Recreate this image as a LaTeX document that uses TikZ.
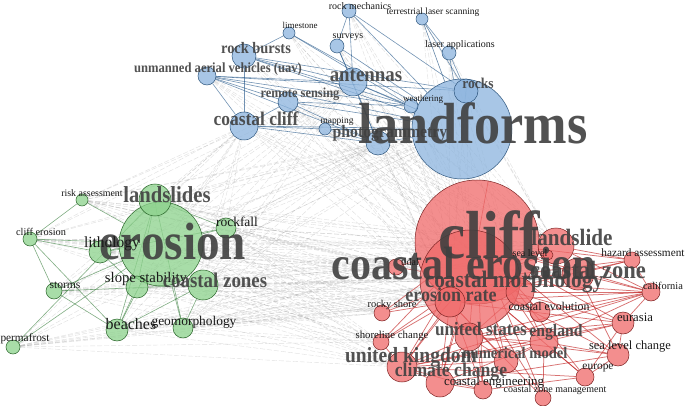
\documentclass[tikz,border=0pt]{standalone}
\usepackage{fontspec}
\setmainfont{Liberation Serif}
\newfontfamily\lbf{Liberation Serif}[FakeStretch=0.9]
\pgfdeclarelayer{back}
\pgfdeclarelayer{bg}
\pgfsetlayers{back,bg,main}
\definecolor{bfill}{RGB}{140,180,222}
\definecolor{bdraw}{RGB}{45,85,125}
\definecolor{gfill}{RGB}{140,210,140}
\definecolor{gdraw}{RGB}{40,100,40}
\definecolor{rfill}{RGB}{240,105,105}
\definecolor{rdraw}{RGB}{125,35,35}
\definecolor{bedge}{RGB}{40,90,140}
\definecolor{gedge}{RGB}{45,120,50}
\definecolor{redge}{RGB}{190,20,20}
\tikzset{
  kn/.style={circle, inner sep=0pt, line width=0.5pt, fill opacity=0.75},
  bn/.style={kn, fill=bfill, draw=bdraw},
  gn/.style={kn, fill=gfill, draw=gdraw},
  rn/.style={kn, fill=rfill, draw=rdraw},
  be/.style={draw=bedge, line width=0.6pt, opacity=0.65},
  gre/.style={draw=gedge, line width=0.6pt, opacity=0.6},
  re/.style={draw=redge, line width=0.75pt, opacity=0.6},
  xe/.style={draw=gray, line width=0.4pt, opacity=0.25, dash pattern=on 5pt off 2pt},
  labb/.style={inner sep=0pt, text=black!75, text opacity=0.9},
  labr/.style={inner sep=0pt, text=black!90},
}
\newcommand\kwb[5]{\node[labb, font=\lbf\bfseries\fontsize{#4}{#4}\selectfont] (l#1) at (#2,#3) {#5};}
\newcommand\kwr[5]{\node[labr, font=\fontsize{#4}{#4}\selectfont] (l#1) at (#2,#3) {#5};}
\begin{document}
\begin{tikzpicture}[x=1pt,y=-1pt]
\begin{pgfonlayer}{back}
\fill[white] (0,0) rectangle (685,406);
\end{pgfonlayer}
\useasboundingbox (0,0) rectangle (685,406);
% ---- circles
\foreach \n/\x/\y/\r in {landforms/462/129/50, rocks/466/91/12, weathering/411/106/7, photogram/378/143/12, mapping/325/129/6, coastcliff/244/126/14, remotesens/288/102/10, antennas/353/82/14, uav/207/76/9, rockbursts/244/56/12, limestone/289/33/6, surveys/337/46/7, rockmech/349/11/7, tls/422/19/6, laserapp/449/53/7}
  \node[bn, minimum size=\r*2pt] (\n) at (\x,\y) {};
\foreach \n/\x/\y/\r in {erosion/161/244/42, landslides/155/200/16, riskass/82/200/6, rockfall/226/228/10, cliffero/30/239/7, lithology/100/252/11, slopestab/137/287/11, coastzones/203/285/15, storms/54/291/8, beaches/117/330/11, geomorph/183/328/10, permafrost/13/347/7}
  \node[gn, minimum size=\r*2pt] (\n) at (\x,\y) {};
\foreach \n/\x/\y/\r in {cliff/477/242/62, coastero/470/280/50, landslide/556/246/18, coastzone/578/274/16, sealevel/548/255/5, tidal/396/267/8, coastmorph/520/292/14, erorate/450/302/15, coastevo/540/312/10, rockyshore/382/313/8, hazard/632/260/8, california/651/292/9, eurasia/623/323/11, usa/469/337/14, england/544/342/14, shorechange/381/342/8, uk/402/367/15, nummodel/506/361/12, slc/618/355/11, climate/440/383/14, europe/585/377/9, coasteng/483/390/9, czm/543/398/8}
  \node[rn, minimum size=\r*2pt] (\n) at (\x,\y) {};
% ---- edges
\begin{pgfonlayer}{bg}
\foreach \a in {erosion,landslides,lithology,coastzones,slopestab,beaches,geomorph,rockfall,riskass,cliffero,storms,permafrost}
  \foreach \b in {cliff,coastero,landforms,erorate,coastmorph,uk,tidal,rockyshore,shorechange,landslide,coastzone,antennas,coastcliff,photogram}
    \draw[xe] (\a) -- (\b);
\foreach \a in {landforms,rocks,weathering,photogram,mapping,coastcliff,remotesens,antennas,uav,rockbursts,limestone,surveys,rockmech,tls,laserapp}
  \foreach \b in {cliff,coastero,erorate,coastmorph,landslide}
    \draw[xe] (\a) -- (\b);
\foreach \b in {rocks,weathering,photogram,mapping,coastcliff,remotesens,antennas,uav,rockbursts,limestone,surveys,rockmech,tls,laserapp}
  \draw[be] (landforms) -- (\b);
\foreach \a/\b in {uav/antennas, uav/remotesens, uav/weathering, uav/photogram, uav/coastcliff, uav/rocks, rockbursts/coastcliff, rockbursts/weathering, rockbursts/antennas, rockbursts/rocks, coastcliff/photogram, coastcliff/mapping, coastcliff/remotesens, antennas/photogram, antennas/rockmech, antennas/weathering, remotesens/photogram, remotesens/weathering, limestone/weathering, limestone/rockbursts, surveys/photogram, surveys/antennas, rockmech/rocks, rockmech/surveys, tls/laserapp, tls/rocks, laserapp/rocks, mapping/photogram}
  \draw[be] (\a) -- (\b);
\foreach \b in {landslides,riskass,rockfall,cliffero,lithology,slopestab,coastzones,storms,beaches,geomorph,permafrost}
  \draw[gre] (erosion) -- (\b);
\foreach \a/\b in {cliffero/lithology, cliffero/storms, cliffero/riskass, cliffero/beaches, storms/coastzones, storms/beaches, permafrost/landslides, beaches/slopestab, beaches/coastzones, beaches/landslides, geomorph/coastzones, geomorph/landslides, lithology/slopestab, lithology/rockfall, landslides/rockfall, landslides/slopestab}
  \draw[gre] (\a) -- (\b);
\foreach \b in {coastero,landslide,coastzone,sealevel,tidal,coastmorph,erorate,coastevo,rockyshore,hazard,california,eurasia,usa,england,shorechange,uk,nummodel,slc,climate,europe,coasteng,czm}
  \draw[re] (cliff) -- (\b);
\foreach \b in {landslide,coastzone,sealevel,tidal,coastmorph,erorate,coastevo,rockyshore,hazard,california,eurasia,usa,england,shorechange,uk,nummodel,slc,climate,europe,coasteng,czm}
  \draw[re] (coastero) -- (\b);
\foreach \a/\b in {uk/nummodel, uk/england, uk/usa, uk/climate, uk/europe, uk/eurasia, uk/coasteng, uk/shorechange, uk/erorate, uk/california, usa/england, usa/eurasia, usa/california, usa/climate, usa/nummodel, usa/slc, england/nummodel, england/slc, england/eurasia, england/europe, england/czm, england/california, england/climate, california/erorate, california/coastevo, california/coastmorph, california/hazard, california/eurasia, eurasia/europe, eurasia/slc, eurasia/erorate, europe/slc, europe/coasteng, erorate/rockyshore, erorate/shorechange, erorate/coasteng, erorate/czm, erorate/nummodel, erorate/hazard, erorate/climate, climate/coasteng, climate/slc, coastmorph/coastevo, coastmorph/england, coastmorph/usa, landslide/hazard, landslide/california, coastzone/california, coastzone/hazard, coastzone/slc}
  \draw[re] (\a) -- (\b);
\end{pgfonlayer}
% ---- big labels
\kwb{landforms}{473}{123}{58}{landforms}
\kwb{erosion}{173}{242}{52.5}{erosion}
\kwb{cliff}{489}{235}{68}{cliff}
\kwb{coastero}{464}{264}{46.7}{coastal erosion}
% ---- blue labels
\kwb{rocks}{478}{83}{15}{rocks}
\kwr{weathering}{423}{99}{9}{weathering}
\kwb{photogram}{390}{133}{17.5}{photogrammetry}
\kwr{mapping}{337}{121}{9.4}{mapping}
\kwb{coastcliff}{256}{119}{19.4}{coastal cliff}
\kwb{remotesens}{300}{94}{13.8}{remote sensing}
\kwb{antennas}{366}{76}{21}{antennas}
\kwb{uav}{218}{69}{14}{unmanned aerial vehicles (uav)}
\kwb{rockbursts}{256}{48}{16}{rock bursts}
\kwr{limestone}{300}{25}{9}{limestone}
\kwr{surveys}{348}{37}{10}{surveys}
\kwr{rockmech}{360}{6}{10}{rock mechanics}
\kwr{tls}{433}{12}{9.5}{terrestrial laser scanning}
\kwr{laserapp}{460}{45}{10}{laser applications}
% ---- green labels
\kwb{landslides}{167}{195}{23}{landslides}
\kwr{riskass}{92}{193}{9.9}{risk assessment}
\kwr{rockfall}{237}{222}{13.5}{rockfall}
\kwr{cliffero}{41}{232}{10.3}{cliff erosion}
\kwr{lithology}{112}{244}{15.5}{lithology}
\kwr{slopestab}{146}{279}{14.7}{slope stability}
\kwb{coastzones}{215}{280}{21}{coastal zones}
\kwr{storms}{65}{285}{11.6}{storms}
\kwr{beaches}{131}{324}{16}{beaches}
\kwr{geomorph}{194}{322}{13.4}{geomorphology}
\kwr{permafrost}{25}{339}{11.3}{permafrost}
% ---- red labels
\kwb{landslide}{572}{237}{23.5}{landslide}
\kwb{coastzone}{588}{270}{25}{coastal zone}
\kwr{sealevel}{530}{253}{10}{sea level}
\kwr{tidal}{410}{262}{10}{tidal}
\kwb{coastmorph}{514}{282}{23.7}{coastal morphology}
\kwb{erorate}{451}{295}{20}{erosion rate}
\kwr{rockyshore}{392}{305}{10.4}{rocky shore}
\kwr{coastevo}{549}{306}{11.9}{coastal evolution}
\kwr{hazard}{643}{253}{11.3}{hazard assessment}
\kwr{california}{663}{286}{10.4}{california}
\kwr{eurasia}{635}{317}{12.7}{eurasia}
\kwb{usa}{481}{329}{19}{united states}
\kwb{england}{556}{332}{17.4}{england}
\kwr{shorechange}{392}{336}{10.8}{shoreline change}
\kwb{uk}{411}{357}{21.7}{united kingdom}
\kwb{nummodel}{515}{353}{16.2}{numerical model}
\kwr{slc}{630}{347}{12.5}{sea level change}
\kwb{climate}{451}{372}{19.6}{climate change}
\kwr{europe}{598}{368}{11.4}{europe}
\kwr{coasteng}{494}{382}{12.9}{coastal engineering}
\kwr{czm}{555}{390}{10}{coastal zone management}
\end{tikzpicture}
\end{document}
